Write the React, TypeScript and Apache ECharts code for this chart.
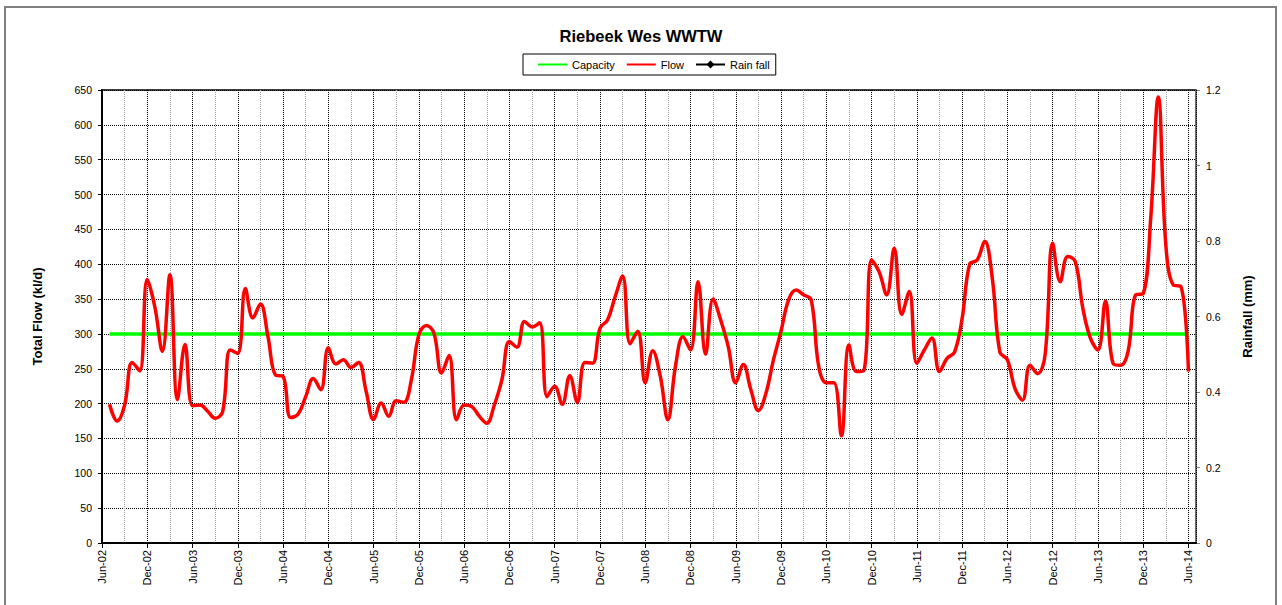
import React, { useEffect, useRef } from "react";
import * as echarts from "echarts";

// Monthly total flow (kl/d), Jul-02 .. Jun-14 (month index 1..144 from Jun-02)
const FLOW: number[] = [
  199, 175, 198, 259, 247, 378, 339, 275, 385, 206, 285, 197,
  198, 189, 179, 189, 277, 272, 365, 323, 343, 296, 241, 239,
  180, 185, 210, 236, 220, 280, 257, 263, 252, 259, 218, 177,
  201, 182, 204, 202, 234, 299, 312, 301, 244, 269, 177, 198,
  196, 182, 172, 198, 234, 289, 281, 318, 310, 316, 210, 225,
  199, 240, 202, 259, 258, 308, 320, 353, 383, 286, 304, 230,
  276, 239, 177, 253, 296, 277, 375, 271, 350, 320, 282, 230,
  256, 220, 190, 215, 263, 304, 349, 363, 356, 349, 253, 230,
  230, 154, 284, 246, 248, 406, 389, 356, 423, 328, 361, 258,
  277, 294, 246, 265, 274, 322, 400, 406, 433, 380, 274, 263,
  222, 205, 255, 243, 270, 430, 375, 411, 404, 337, 294, 277,
  347, 258, 255, 275, 356, 358, 466, 640, 428, 370, 368, 246,
];
const CAPACITY = 300;
const RAINFALL: number[] = [];

const MONTH_NAMES = ["Jan", "Feb", "Mar", "Apr", "May", "Jun", "Jul", "Aug", "Sep", "Oct", "Nov", "Dec"];
const START_YEAR = 2002;
const START_MONTH = 5; // June
const FIRST_INDEX = 1; // first reading: Jul-02
const X_MAX = 145; // Jul-14

function monthLabel(i: number): string {
  const t = START_MONTH + i;
  const y = START_YEAR + Math.floor(t / 12);
  return MONTH_NAMES[t % 12] + "-" + String(y % 100).padStart(2, "0");
}

const FONT = "'Liberation Sans', Arial, sans-serif";
const HIDDEN_SYMBOL = { color: "rgba(0,0,0,0)", borderColor: "rgba(0,0,0,0)", borderWidth: 0 };

export default function App() {
  const ref = useRef<HTMLDivElement>(null);
  useEffect(() => {
    if (!ref.current) return;
    const chart = echarts.init(ref.current, null, { renderer: "svg" });
    const flowData = FLOW.map((v, i) => [i + FIRST_INDEX, v]);
    const capData = FLOW.map((_, i) => [i + FIRST_INDEX, CAPACITY]);
    const option: any = {
      animation: false,
      backgroundColor: "#ffffff",
      textStyle: { fontFamily: FONT },
      title: {
        text: "Riebeek Wes WWTW",
        left: "center",
        top: 27,
        padding: 0,
        textStyle: { fontSize: 16.5, fontWeight: "bold", color: "#000", fontFamily: FONT },
      },
      legend: {
        data: [
          { name: "Capacity", itemStyle: HIDDEN_SYMBOL },
          { name: "Flow", itemStyle: HIDDEN_SYMBOL },
          { name: "Rain fall" },
        ],
        left: 523,
        top: 54,
        orient: "horizontal",
        borderColor: "#000",
        borderWidth: 1,
        padding: [5, 6, 5, 14],
        itemWidth: 29,
        itemHeight: 10,
        itemGap: 11,
        textStyle: { fontSize: 11, color: "#000", fontFamily: FONT },
      },
      graphic: [
        {
          type: "rect",
          silent: true,
          shape: { x: 5, y: 7, width: 1271, height: 700 },
          style: { fill: "none", stroke: "#808080", lineWidth: 2 },
        },
      ],
      grid: {
        left: 102,
        right: 86,
        top: 90,
        bottom: 62,
        show: true,
        borderColor: "#000",
        borderWidth: 1.5,
        backgroundColor: "rgba(0,0,0,0)",
      },
      xAxis: [
        {
          type: "value",
          min: 0,
          max: X_MAX,
          interval: 6,
          position: "bottom",
          z: 3,
          axisLine: { show: true, onZero: false, lineStyle: { color: "#000", width: 2 } },
          axisTick: { show: true, length: 5, lineStyle: { color: "#000", width: 1 } },
          axisLabel: {
            rotate: 90,
            margin: 7,
            fontSize: 11,
            color: "#000",
            fontFamily: FONT,
            showMaxLabel: false,
            formatter: (v: number) => (v % 6 === 0 ? monthLabel(v) : ""),
          },
          splitLine: { show: true, lineStyle: { color: "#000", width: 1, type: [1, 1] } },
        },
        {
          type: "value",
          min: 0,
          max: X_MAX,
          interval: 3,
          position: "bottom",
          z: 1,
          axisLine: { show: false },
          axisTick: { show: false },
          axisLabel: { show: false },
          splitLine: {
            show: true,
            lineStyle: { color: ["rgba(0,0,0,0)", "#9a9a9a"], width: 1, type: [1, 1] },
          },
        },
      ],
      yAxis: [
        {
          type: "value",
          min: 0,
          max: 650,
          interval: 50,
          position: "left",
          name: "Total Flow (kl/d)",
          nameLocation: "middle",
          nameRotate: 90,
          nameGap: 58,
          nameTextStyle: { fontSize: 13, fontWeight: "bold", color: "#000", fontFamily: FONT },
          axisLine: { show: true, onZero: false, lineStyle: { color: "#000", width: 2 } },
          axisTick: { show: true, length: 4, lineStyle: { color: "#000" } },
          axisLabel: { fontSize: 10.5, color: "#000", margin: 10, fontFamily: FONT },
          splitLine: { show: true, lineStyle: { color: "#000", width: 1, type: [1, 1] } },
        },
        {
          type: "value",
          min: 0,
          max: 1.2,
          interval: 0.2,
          position: "right",
          name: "Rainfall (mm)",
          nameLocation: "middle",
          nameRotate: 90,
          nameGap: 45,
          nameTextStyle: { fontSize: 13, fontWeight: "bold", color: "#000", fontFamily: FONT },
          axisLine: { show: true, onZero: false, lineStyle: { color: "#808080", width: 1.5 } },
          axisTick: { show: true, length: 4, lineStyle: { color: "#808080" } },
          axisLabel: { fontSize: 10.5, color: "#000", margin: 10, fontFamily: FONT },
          splitLine: { show: false },
        },
      ],
      series: [
        {
          name: "Capacity",
          type: "line",
          data: capData,
          symbol: "none",
          color: "#00ff00",
          lineStyle: { color: "#00ff00", width: 3.5 },
          z: 3,
        },
        {
          name: "Flow",
          type: "line",
          data: flowData,
          smooth: 0.4,
          symbol: "none",
          color: "#ff0000",
          lineStyle: { color: "#ff0000", width: 3.5 },
          z: 4,
        },
        {
          name: "Rain fall",
          type: "line",
          yAxisIndex: 1,
          data: RAINFALL,
          symbol: "diamond",
          symbolSize: 7,
          color: "#000",
          itemStyle: { color: "#000" },
          lineStyle: { color: "#000", width: 1 },
          z: 2,
        },
      ],
    };
    chart.setOption(option);
    return () => chart.dispose();
  }, []);
  return (
    <div
      ref={ref}
      style={{ position: "fixed", left: 0, top: 0, width: 1282, height: 605, background: "#fff" }}
    />
  );
}
